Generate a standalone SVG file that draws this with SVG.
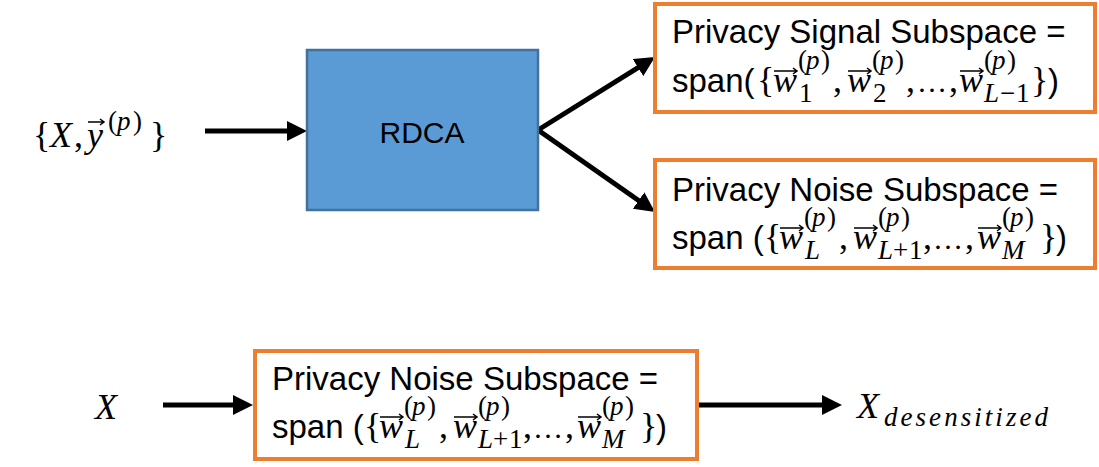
<svg xmlns="http://www.w3.org/2000/svg" width="1099" height="467" viewBox="0 0 1099 467">
<style>
.t{font-family:"Liberation Sans",Arial,sans-serif;font-size:33px;fill:#000}
.m{font-family:"Liberation Serif","Times New Roman",serif;font-size:36px;font-style:italic}
.mu{font-family:"Liberation Serif","Times New Roman",serif;font-size:36px;font-style:normal}
.s{font-family:"Liberation Serif","Times New Roman",serif;font-size:27px;font-style:italic}
.su{font-family:"Liberation Serif","Times New Roman",serif;font-size:27px;font-style:normal}
.el{font-family:"Liberation Serif","Times New Roman",serif;font-size:30px;font-style:normal}
.box{fill:#fff;stroke:#ED7D31;stroke-width:4}
.c{stroke:#000;stroke-width:5;fill:none}
.va{stroke:#000;stroke-width:1.5;fill:none}
</style>
<defs>
<marker id="ah" markerUnits="userSpaceOnUse" markerWidth="20" markerHeight="20" viewBox="0 0 20 20" refX="10" refY="10" orient="auto">
<path d="M0,0 L20,10 L0,20 z" fill="#000"/>
</marker>
<g id="noiseText">
<text class="t" y="201"><tspan x="672" y="201">Privacy Noise Subspace =</tspan><tspan x="672" y="249">span (</tspan><tspan class="mu" x="764" y="249">{</tspan><tspan class="m" x="779" y="249">w</tspan><tspan class="su" x="804" y="226">(</tspan><tspan class="s" x="812" y="226">p</tspan><tspan class="su" x="827" y="226">)</tspan><tspan class="s" x="805" y="259">L</tspan><tspan class="mu" x="839" y="249">,</tspan><tspan class="m" x="853" y="249">w</tspan><tspan class="su" x="878" y="226">(</tspan><tspan class="s" x="886" y="226">p</tspan><tspan class="su" x="901" y="226">)</tspan><tspan class="s" x="878" y="259">L</tspan><tspan class="su" x="893" y="259">+</tspan><tspan class="su" x="909" y="259">1</tspan><tspan class="mu" x="923" y="249">,</tspan><tspan class="el" x="933" y="249">…</tspan><tspan class="mu" x="965" y="249">,</tspan><tspan class="m" x="977" y="249">w</tspan><tspan class="su" x="1002" y="226">(</tspan><tspan class="s" x="1010" y="226">p</tspan><tspan class="su" x="1025" y="226">)</tspan><tspan class="s" x="1002" y="259">M</tspan><tspan class="mu" x="1040" y="249">}</tspan><tspan x="1056" y="249">)</tspan></text>
<path class="va" d="M780,228 H803 M799,225 L803,228 L799,231"/>
<path class="va" d="M854,228 H877 M873,225 L877,228 L873,231"/>
<path class="va" d="M978,228 H1001 M997,225 L1001,228 L997,231"/>
</g>
</defs>

<g id="connectors">
<line class="c" x1="205" y1="131" x2="297" y2="131" marker-end="url(#ah)"/>
<line class="c" x1="538" y1="130" x2="646.5" y2="62.3" marker-end="url(#ah)"/>
<line class="c" x1="538" y1="130" x2="646.8" y2="206.3" marker-end="url(#ah)"/>
<line class="c" x1="163" y1="405" x2="243" y2="405" marker-end="url(#ah)"/>
<line class="c" x1="697" y1="405" x2="832" y2="405" marker-end="url(#ah)"/>
</g>

<g id="input">
<text class="mu" y="147"><tspan x="33" y="147">{</tspan><tspan class="m" x="50" y="147">X</tspan><tspan x="74" y="147">,</tspan><tspan class="m" x="87" y="147">y</tspan><tspan class="su" x="108" y="130">(</tspan><tspan class="s" x="117" y="130">p</tspan><tspan class="su" x="133" y="130">)</tspan><tspan x="150" y="147">}</tspan></text>
<path class="va" d="M88,122 H104 M100,119 L104,122 L100,125"/>
</g>

<g id="rdca">
<rect x="307" y="50" width="231" height="160" fill="#5B9BD5" stroke="#41719C" stroke-width="2.5"/>
<text class="t" x="422" y="143" text-anchor="middle" style="font-size:30px">RDCA</text>
</g>

<g id="signal">
<rect class="box" x="655" y="4" width="440" height="108"/>
<text class="t" y="43"><tspan x="672" y="43">Privacy Signal Subspace =</tspan><tspan x="672" y="92">span(</tspan><tspan class="mu" x="757" y="92">{</tspan><tspan class="m" x="773" y="92">w</tspan><tspan class="su" x="798" y="69">(</tspan><tspan class="s" x="806" y="69">p</tspan><tspan class="su" x="821" y="69">)</tspan><tspan class="su" x="799" y="102">1</tspan><tspan class="mu" x="833" y="92">,</tspan><tspan class="m" x="847" y="92">w</tspan><tspan class="su" x="872" y="69">(</tspan><tspan class="s" x="880" y="69">p</tspan><tspan class="su" x="895" y="69">)</tspan><tspan class="su" x="873" y="102">2</tspan><tspan class="mu" x="906" y="92">,</tspan><tspan class="el" x="917" y="92">…</tspan><tspan class="mu" x="949" y="92">,</tspan><tspan class="m" x="959" y="92">w</tspan><tspan class="su" x="984" y="69">(</tspan><tspan class="s" x="992" y="69">p</tspan><tspan class="su" x="1007" y="69">)</tspan><tspan class="s" x="984" y="102">L</tspan><tspan class="su" x="1000" y="102">−</tspan><tspan class="su" x="1016" y="102">1</tspan><tspan class="mu" x="1031" y="92">}</tspan><tspan x="1048" y="92">)</tspan></text>
<path class="va" d="M774,71 H797 M793,68 L797,71 L793,74"/>
<path class="va" d="M848,71 H871 M867,68 L871,71 L867,74"/>
<path class="va" d="M960,71 H983 M979,68 L983,71 L979,74"/>
</g>

<g id="noise">
<rect class="box" x="655" y="160" width="440" height="108"/>
<use href="#noiseText"/>
</g>

<g id="input2">
<text class="m" x="95" y="419">X</text>
</g>

<g id="noise2">
<rect class="box" x="255" y="351" width="442" height="108"/>
<use href="#noiseText" transform="translate(-400,189)"/>
</g>

<g id="output">
<text class="m" y="418"><tspan x="857" y="418">X</tspan><tspan x="884" y="426" style="font-size:27px" textLength="164" lengthAdjust="spacing">desensitized</tspan></text>
</g>
</svg>
